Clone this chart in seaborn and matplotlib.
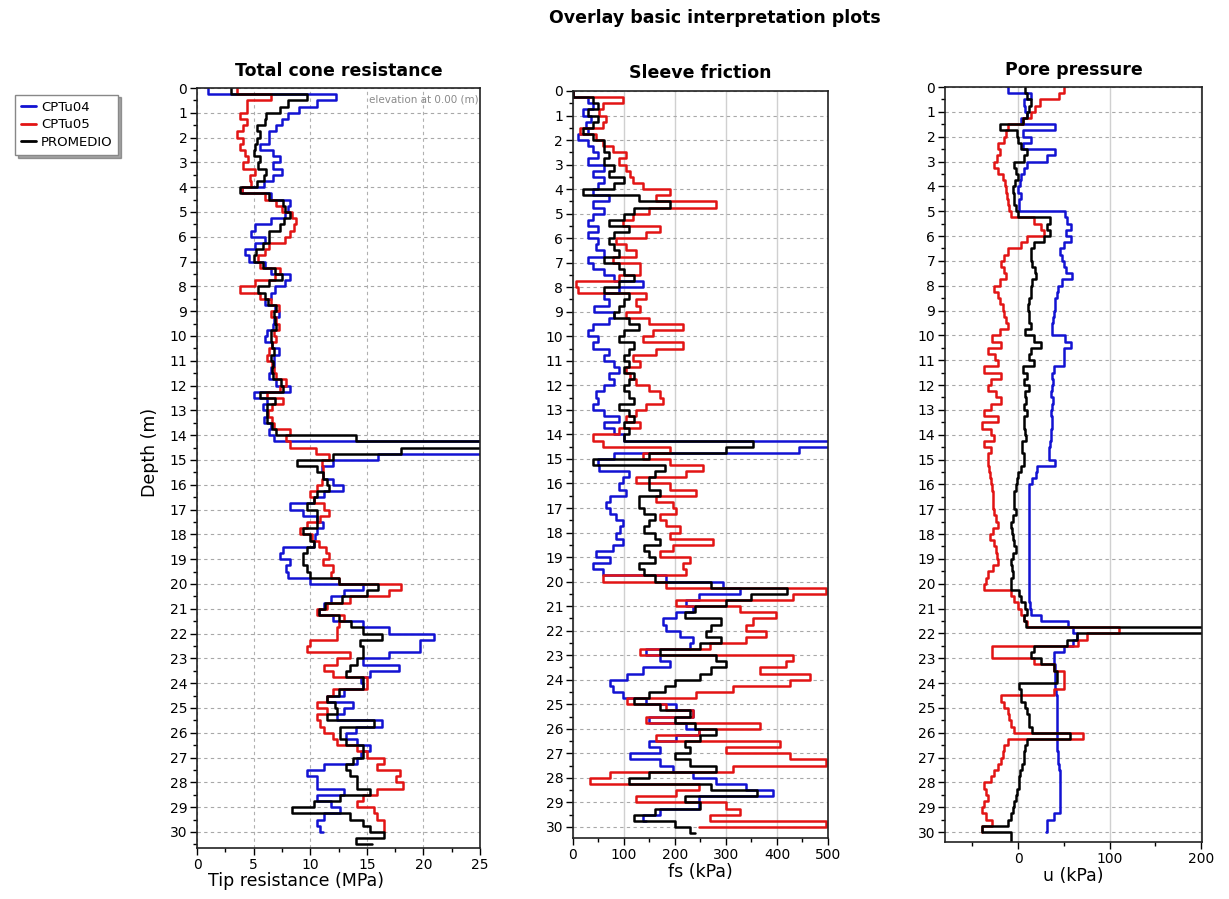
import numpy as np
import matplotlib
matplotlib.use('Agg')
import matplotlib.pyplot as plt
import seaborn as sns
from matplotlib.ticker import MultipleLocator
from matplotlib.lines import Line2D

sns.set_style('ticks')
plt.rcParams['font.family'] = ['DejaVu Sans']
plt.rcParams['text.color'] = 'black'
plt.rcParams['axes.labelcolor'] = 'black'
plt.rcParams['xtick.color'] = 'black'
plt.rcParams['ytick.color'] = 'black'

# profundidad cada 0.25 m (0 - 30.5 m)
depth = np.arange(0, 30.51, 0.25)

# ---- Total cone resistance (MPa) ----
qc_cptu04 = [
    1.0, 12.3, 10.6, 9.0,   8.0, 7.5, 7.0, 6.4,   6.4, 5.6, 6.7, 7.3,   6.7, 7.5, 6.7, 5.9,
    4.0, 6.5, 8.2, 8.0,     7.8, 6.5, 5.1, 4.8,   6.0, 5.1, 4.2, 4.6,   6.0, 6.5, 8.2, 7.8,
    6.9, 6.5, 6.0, 6.9,     7.2, 6.8, 6.7, 6.2,   6.0, 6.6, 7.2, 6.8,   6.8, 6.5, 6.4, 7.0,
    8.2, 5.0, 6.2, 5.8,     6.2, 5.9, 6.5, 6.4,   6.8, 26.0, 26.0, 16.0, 12.0, 11.0, 11.1, 12.0,
    12.9, 11.2, 10.3, 8.2,  9.4, 10.6, 11.1, 10.6, 10.4, 10.3, 7.6, 7.3, 8.2, 7.9, 8.0, 10.0,
    14.7, 13.0, 11.8, 11.2, 10.8, 12.0, 14.7, 17.0, 20.9, 19.7, 19.7, 17.0, 14.7, 17.8, 15.3, 14.5,
    14.7, 13.0, 11.5, 13.8, 13.0, 12.4, 16.3, 14.0, 13.2, 14.1, 15.3, 14.5, 14.1, 11.2, 9.7, 10.6,
    10.6, 13.0, 10.6, 11.8, 12.6, 11.2, 10.6, 10.9, 11.1, np.nan, np.nan,
]
qc_cptu05 = [
    3.5, 6.5, 4.4, 4.4,     3.8, 4.4, 4.1, 3.5,   4.1, 3.8, 4.2, 4.5,   4.1, 5.1, 4.7, 4.8,
    4.0, 6.0, 7.0, 7.5,     8.4, 8.7, 8.6, 8.2,   7.8, 6.4, 6.0, 5.4,   5.6, 7.3, 6.9, 5.1,
    3.8, 5.6, 6.5, 7.2,     6.5, 7.0, 7.2, 6.8,   7.0, 6.6, 6.4, 6.2,   6.6, 6.8, 7.0, 7.9,
    7.3, 6.2, 7.6, 6.6,     6.3, 6.6, 6.8, 8.2,   7.9, 8.2, 10.5, 11.7, 11.0, 11.1, 11.1, 11.0,
    10.6, 10.0, 10.3, 11.2, 11.7, 10.9, 9.7, 9.1, 10.2, 10.8, 11.4, 11.7, 11.1, 12.0, 11.8, 12.5,
    18.0, 17.0, 13.5, 11.5, 10.6, 13.0, 12.5, 12.4, 12.4, 10.0, 9.7, 13.5, 12.4, 11.2, 12.0, 15.0,
    15.0, 12.0, 11.5, 10.6, 11.5, 10.6, 10.9, 11.2, 12.0, 12.4, 14.1, 15.0, 16.5, 15.9, 17.9, 17.6,
    18.2, 15.9, 14.7, 14.1, 15.6, 15.9, 16.5, 16.5, 16.5, np.nan, np.nan,
]
qc_promedio = [
    3.0, 9.7, 8.0, 7.3,     6.1, 6.0, 5.3, 5.6,   5.3, 5.1, 5.0, 5.6,   5.4, 6.1, 5.9, 5.3,
    3.8, 6.4, 7.6, 7.8,     8.2, 7.7, 7.3, 6.4,   6.4, 5.8, 5.2, 5.0,   5.8, 6.9, 7.5, 6.4,
    5.4, 6.0, 6.3, 7.0,     6.8, 6.9, 7.0, 6.5,   6.5, 6.6, 6.8, 6.5,   6.7, 6.6, 6.7, 7.4,
    7.6, 5.6, 6.9, 6.2,     6.2, 6.2, 6.6, 7.0,   14.0, 26.0, 18.0, 12.0, 8.8, 10.6, 11.1, 11.5,
    11.7, 10.6, 10.3, 9.7,  10.6, 10.6, 10.6, 9.4, 10.0, 10.3, 9.7, 9.4, 9.4, 9.7, 10.0, 12.5,
    16.0, 15.0, 12.8, 11.3, 10.8, 12.5, 13.6, 14.7, 16.3, 14.4, 14.7, 14.7, 14.1, 13.5, 13.2, 14.7,
    14.7, 12.5, 11.5, 12.2, 12.4, 11.5, 15.6, 12.6, 12.6, 13.2, 14.7, 14.7, 13.8, 13.2, 13.5, 14.1,
    14.1, 15.3, 12.6, 10.3, 8.4, 13.5, 14.7, 15.3, 16.5, 14.0, 15.5,
]

# ---- Sleeve friction (kPa) ----
fs_cptu04 = [
    0, 30, 40, 20,      35, 25, 30, 10,     30, 40, 50, 30,     60, 40, 60, 50,
    40, 70, 40, 60,     40, 30, 50, 30,     50, 45, 60, 30,     40, 60, 80, 137,
    90, 60, 70, 42,     80, 70, 40, 30,     50, 40, 70, 60,     80, 90, 70, 80,
    60, 46, 50, 40,     60, 90, 60, 80,     100, 510, 444, 80,  50, 52, 110, 98,
    90, 104, 72, 65,    72, 85, 98, 92,     85, 98, 78, 46,     72, 39, 59, 183,
    294, 327, 248, 222, 235, 203, 176, 183, 209, 235, 229, 144, 170, 190, 137, 105,
    72, 78, 98, 144,    203, 235, 150, 222, 248, 203, 150, 170, 111, 170, 196, 235,
    281, 340, 392, 248, 248, 170, 137, 144, np.nan, np.nan, np.nan,
]
fs_cptu05 = [
    0, 98, 59, 52,      65, 59, 13, 46,     59, 78, 104, 91,    104, 111, 118, 137,
    190, 163, 281, 150, 118, 98, 170, 144,  85, 104, 124, 78,   131, 131, 91, 6,
    10, 144, 124, 131,  104, 150, 216, 157, 137, 216, 163, 118, 131, 104, 111, 124,
    150, 170, 176, 144, 124, 104, 131, 91,  39, 59, 190, 137,   190, 255, 222, 124,
    190, 242, 163, 196, 203, 170, 183, 209, 190, 275, 196, 170, 229, 216, 222, 59,
    183, 497, 431, 203, 327, 399, 353, 340, 379, 340, 268, 131, 431, 418, 366, 464,
    425, 314, 242, 105, 183, 235, 144, 366, 248, 163, 405, 300, 425, 497, 314, 72,
    33, 248, 203, 124,  300, 327, 268, 497, 248, np.nan, np.nan,
]
fs_promedio = [
    0, 40, 50, 30,      50, 40, 20, 40,     60, 60, 70, 60,     80, 70, 100, 80,
    20, 130, 190, 120,  100, 70, 110, 80,   70, 80, 90, 60,     90, 100, 120, 90,
    60, 110, 100, 90,   80, 110, 130, 100,  90, 120, 110, 100,  110, 100, 120, 110,
    100, 110, 120, 90,  110, 120, 100, 110, 100, 353, 300, 150, 40, 180, 160, 150,
    150, 170, 130, 130, 140, 160, 150, 140, 160, 170, 140, 150, 160, 130, 140, 160,
    270, 420, 350, 300, 240, 220, 290, 270, 260, 290, 250, 170, 280, 300, 270, 250,
    200, 180, 150, 120, 170, 230, 200, 240, 280, 250, 220, 230, 200, 230, 280, 150,
    110, 270, 360, 220, 250, 160, 120, 200, 230, 240, np.nan,
]

# ---- Pore pressure (kPa) ----
u_cptu04 = [
    -11.5, 13.7, 6.5, 8.0,  10.0, 3.0, 40.6, 5.0,  13.7, 5.0, 40.6, 31.7, 10.0, 6.5, 3.0, 2.0,
    0.0, 3.0, 1.0, 1.0,     51.0, 53.0, 58.0, 52.0, 58.0, 50.0, 46.0, 48.0, 50.0, 52.0, 58.6, 48.0,
    44.0, 42.0, 40.6, 40.0, 39.0, 38.0, 37.0, 37.0, 51.5, 58.0, 50.0, 50.0, 50.0, 39.0, 37.0, 38.0,
    37.0, 36.0, 38.0, 37.0, 36.0, 37.0, 37.0, 36.0, 36.0, 35.0, 34.0, 34.0, 40.6, 21.0, 19.0, 15.0,
    12.0, 12.0, 12.0, 12.0, 12.0, 12.0, 12.0, 12.0, 12.0, 12.0, 12.0, 12.0, 12.0, 12.0, 12.0, 12.0,
    12.0, 12.0, 12.0, 13.0, 14.0, 24.5, 55.0, 60.0, 64.0, 60.0, 50.0, 39.0, 39.0, 40.0, 40.6, 40.6,
    40.6, 41.0, 42.0, 42.0, 42.0, 42.0, 42.0, 42.0, 42.0, 43.0, 43.0, 44.0, 44.0, 45.0, 46.0, 46.0,
    46.0, 46.0, 46.0, 46.0, 46.0, 39.0, 31.7, 31.7, 30.0, np.nan, np.nan,
]
u_cptu05 = [
    50.0, 45.0, 24.0, 18.0, 14.0, 5.0, -11.5, -13.0, -15.0, -22.0, -20.0, -23.0, -26.0, -22.0, -17.0, -14.0,
    -13.0, -12.0, -11.5, -10.0, -8.0, 17.0, 24.5, 28.0, 10.0, 3.0, -11.5, -15.0, -19.0, -16.0, -13.0, -20.0,
    -26.0, -22.0, -20.0, -17.0, -15.0, -13.0, -11.5, -20.0, -29.0, -19.0, -33.0, -25.0, -22.0, -37.0, -19.0, -30.0,
    -33.0, -24.0, -19.0, -30.0, -37.0, -22.0, -40.0, -30.0, -26.0, -37.0, -30.0, -33.0, -33.0, -32.0, -31.0, -30.0,
    -29.0, -28.0, -27.0, -27.0, -26.0, -24.0, -22.0, -28.0, -31.0, -26.0, -24.0, -23.0, -22.0, -28.0, -33.0, -35.0,
    -37.0, -8.0, -4.0, 0.0, 3.0, 6.5, 10.0, 110.0, 75.0, 65.0, -29.0, -29.0, 17.0, 39.0, 50.0, 50.0,
    50.0, 39.0, -19.0, -15.0, -11.5, -10.0, -8.0, -5.0, 71.0, -11.5, -15.0, -17.0, -19.0, -22.0, -26.0, -30.0,
    -37.0, -35.0, -33.0, -37.0, -40.0, -35.0, -29.0, -40.0, -40.0, np.nan, np.nan,
]
u_promedio = [
    7.0, 10.0, 14.0, 12.0,  10.0, 5.0, -20.0, -1.0, 0.0, 3.0, 10.0, 6.5,   -4.0, -2.0, 0.0, -3.0,
    -6.0, -5.0, -4.0, -2.0, 0.0, 35.0, 31.7, 35.0, 28.0, 17.0, 13.7, 14.0, 15.5, 18.0, 19.0, 15.0,
    13.7, 13.7, 12.0, 11.0, 11.8, 12.0, 13.7, 8.0, 17.0, 24.5, 13.7, 12.0, 17.0, 5.0, 10.0, 6.0,
    11.8, 8.0, 8.3, 6.0,    10.0, 6.0, 6.5, 8.0,  8.3, 4.0, 4.7, 6.0,     6.5, 3.0, 0.0, -1.0,
    -2.5, -4.0, -5.0, -4.0, -2.5, -6.0, -8.0, -7.0, -6.0, -4.0, -2.5, -6.0, -8.0, -7.0, -6.0, -8.0,
    -8.0, 1.0, 3.0, 8.0,    10.0, 6.5, 8.3, 205.0, 64.0, 53.0, 17.0, 13.7, 24.5, 39.0, 42.0, 42.0,
    1.0, 3.0, 3.0, 8.0,     10.0, 11.8, 12.0, 15.0, 57.0, 10.0, 8.0, 6.5, 6.5, 4.0, 2.5, 1.0,
    1.0, -1.0, -2.5, -4.0,  -6.0, -8.0, -11.5, -40.0, -8.0, -8.0, -8.0,
]

series_names = ['CPTu04', 'CPTu05', 'PROMEDIO']
series_colors = ['#1212d2', '#e21414', '#000000']

panels = [
    {'title': 'Total cone resistance', 'xlabel': 'Tip resistance (MPa)',
     'data': [qc_cptu04, qc_cptu05, qc_promedio],
     'rect': [0.1603, 0.0567, 0.2303, 0.8454], 'xlim': (0, 25), 'ylim': (30.65, 0),
     'major': 5, 'minor': 2.5},
    {'title': 'Sleeve friction', 'xlabel': 'fs (kPa)',
     'data': [fs_cptu04, fs_cptu05, fs_promedio],
     'rect': [0.4662, 0.0679, 0.2075, 0.8309], 'xlim': (0, 500), 'ylim': (30.45, 0),
     'major': 100, 'minor': 50},
    {'title': 'Pore pressure', 'xlabel': 'u (kPa)',
     'data': [u_cptu04, u_cptu05, u_promedio],
     'rect': [0.7689, 0.0634, 0.2091, 0.8398], 'xlim': (-80, 201), 'ylim': (30.4, 0),
     'major': 100, 'minor': 50},
]

fig = plt.figure(figsize=(12.29, 8.99), dpi=100)

for i, p in enumerate(panels):
    ax = fig.add_axes(p['rect'])
    for vals, name, col in zip(p['data'], series_names, series_colors):
        assert len(vals) == len(depth)
        sns.lineplot(x=np.array(vals, dtype=float), y=depth, orient='y', estimator=None,
                     color=col, lw=1.8, drawstyle='steps-pre', ax=ax, label=name, legend=False)
    ax.set_xlim(*p['xlim'])
    ax.set_ylim(*p['ylim'])
    ax.xaxis.set_major_locator(MultipleLocator(p['major']))
    ax.xaxis.set_minor_locator(MultipleLocator(p['minor']))
    ax.yaxis.set_major_locator(MultipleLocator(1))
    ax.yaxis.set_minor_locator(MultipleLocator(0.5))
    ax.grid(True, which='major', axis='y', ls=(0, (3, 3)), color='#a8a8a8', lw=0.8)
    if i == 0:
        ax.grid(True, which='major', axis='x', ls=(0, (3, 3)), color='#b0b0b0', lw=0.8)
    else:
        ax.grid(True, which='major', axis='x', ls='-', color='#d0d0d0', lw=1.0)
    ax.tick_params(which='major', direction='out', length=5, width=1, labelsize=10, pad=2)
    ax.tick_params(which='minor', direction='out', length=3, width=1)
    for s in ax.spines.values():
        s.set_visible(True)
        s.set_linewidth(1.2)
        s.set_color('#222222')
    ax.set_title(p['title'], fontsize=12.5, fontweight='bold', pad=9)
    ax.set_xlabel(p['xlabel'], fontsize=12.5, labelpad=1)
    if i == 0:
        ax.xaxis.set_label_coords(0.35, -0.032)
        ax.set_ylabel('Depth (m)', fontsize=12.5, labelpad=6)
        ax.yaxis.set_label_coords(-0.135, 0.52)
        ax.text(0.995, 0.992, 'elevation at 0.00 (m)', transform=ax.transAxes,
                ha='right', va='top', fontsize=7.5, color='#8a8a8a')
    else:
        ax.set_ylabel('')

fig.text(715 / 1229, 1 - 18 / 899, 'Overlay basic interpretation plots',
         ha='center', va='center', fontsize=12.5, fontweight='bold')

handles = [Line2D([0], [0], color=c, lw=2) for c in series_colors]
fig.legend(handles, series_names, loc='upper left', bbox_to_anchor=(0.007, 0.902),
           fontsize=9.5, frameon=True, fancybox=False, shadow=True, edgecolor='#888888',
           handlelength=1.1, handletextpad=0.4, borderpad=0.45, labelspacing=0.35)

fig.savefig('out.png', dpi=100)
